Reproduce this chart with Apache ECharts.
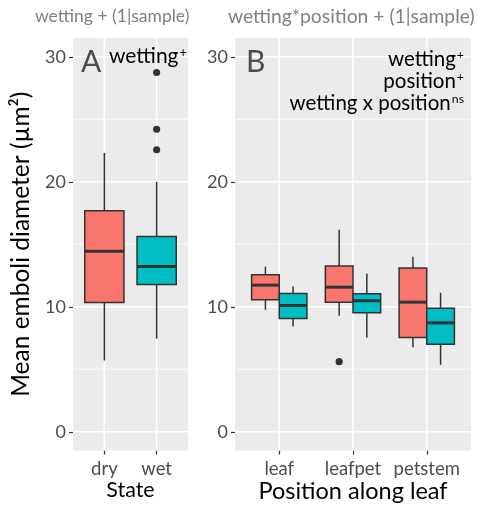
<!DOCTYPE html>
<html>
<head>
<meta charset="utf-8">
<script src="https://cdn.jsdelivr.net/npm/echarts@6/dist/echarts.min.js"></script>
<style>
  html, body { margin: 0; padding: 0; background: #ffffff; }
  #chart { width: 478px; height: 505px; }
</style>
</head>
<body>
<div id="chart"></div>
<script>
// Mean emboli diameter (µm²) by wetting state and by position along the leaf.
// Box rows are [lower whisker, Q1, median, Q3, upper whisker].
const yMajor = [0, 10, 20, 30];
const yMinor = [5, 15, 25];

const stateCats = ['dry', 'wet'];
const stateBoxes = [
  [5.7, 10.35, 14.45, 17.68, 22.3],
  [7.44, 11.79, 13.23, 15.63, 20.0]
];
const stateOutliers = [[], [22.56, 24.2, 28.74]];

const positionCats = ['leaf', 'leafpet', 'petstem'];
const dryBoxes = [
  [9.76, 10.56, 11.73, 12.57, 13.2],
  [9.28, 10.37, 11.57, 13.26, 16.17],
  [6.76, 7.54, 10.37, 13.1, 14.0]
];
const wetBoxes = [
  [8.42, 9.06, 10.1, 11.07, 11.63],
  [7.54, 9.52, 10.48, 11.04, 12.67],
  [5.35, 7.0, 8.71, 9.89, 11.12]
];
const dryOutliers = [[], [5.61], []];
const wetOutliers = [[], [], []];

const FONT = 'Lato';
const RED = '#F8766D';
const CYAN = '#00BFC4';
const INK = '#333333';

// Panel background grid lines drawn through the axis scales
function hGridSeries(gi, values, width) {
  return {
    type: 'custom', xAxisIndex: gi, yAxisIndex: gi, z: 1, silent: true,
    data: values.map(v => [v]),
    encode: { y: 0 },
    renderItem: (params, api) => {
      const cs = params.coordSys;
      const y = api.coord([1, api.value(0)])[1];
      return { type: 'line', shape: { x1: cs.x, y1: y, x2: cs.x + cs.width, y2: y },
        style: { stroke: '#ffffff', lineWidth: width } };
    }
  };
}
function vGridSeries(gi, count, width) {
  return {
    type: 'custom', xAxisIndex: gi, yAxisIndex: gi, z: 1, silent: true,
    data: Array.from({ length: count }, (_, i) => [i + 1]),
    encode: { x: 0 },
    renderItem: (params, api) => {
      const cs = params.coordSys;
      const x = api.coord([api.value(0), 0])[0];
      return { type: 'line', shape: { x1: x, y1: cs.y, x2: x, y2: cs.y + cs.height },
        style: { stroke: '#ffffff', lineWidth: width } };
    }
  };
}

// Box-and-whisker glyphs; offset/width in category units (dodged groups)
function boxSeries(gi, rows, color, offset, width) {
  return {
    type: 'custom', xAxisIndex: gi, yAxisIndex: gi, z: 3,
    data: rows.map((r, i) => [i + 1].concat(r)),
    encode: { x: 0, y: [1, 2, 3, 4, 5] },
    renderItem: (params, api) => {
      const x = api.value(0) + offset;
      const lo = api.value(1), q1 = api.value(2), md = api.value(3), q3 = api.value(4), hi = api.value(5);
      const cx = api.coord([x, md])[0];
      const left = api.coord([x - width / 2, md])[0];
      const right = api.coord([x + width / 2, md])[0];
      const yLo = api.coord([x, lo])[1], yQ1 = api.coord([x, q1])[1];
      const yMd = api.coord([x, md])[1], yQ3 = api.coord([x, q3])[1], yHi = api.coord([x, hi])[1];
      const ls = { stroke: INK, lineWidth: 1.5 };
      return {
        type: 'group',
        children: [
          { type: 'line', shape: { x1: cx, y1: yHi, x2: cx, y2: yQ3 }, style: ls },
          { type: 'line', shape: { x1: cx, y1: yQ1, x2: cx, y2: yLo }, style: ls },
          { type: 'rect', shape: { x: left, y: yQ3, width: right - left, height: yQ1 - yQ3 },
            style: { fill: color, stroke: INK, lineWidth: 1.5 } },
          { type: 'line', shape: { x1: left, y1: yMd, x2: right, y2: yMd },
            style: { stroke: INK, lineWidth: 3 } }
        ]
      };
    }
  };
}

function outlierSeries(gi, lists, offset) {
  const pts = [];
  lists.forEach((vals, i) => vals.forEach(v => pts.push([i + 1, v])));
  return {
    type: 'custom', xAxisIndex: gi, yAxisIndex: gi, z: 4,
    data: pts,
    encode: { x: 0, y: 1 },
    renderItem: (params, api) => {
      const p = api.coord([api.value(0) + offset, api.value(1)]);
      return { type: 'circle', shape: { cx: p[0], cy: p[1], r: 3.6 }, style: { fill: INK } };
    }
  };
}

function yAxisFor(gi, withName) {
  return {
    type: 'value', gridIndex: gi, min: -1.5, max: 31.5,
    axisLine: { show: false, onZero: false },
    splitLine: { show: false },
    axisTick: { show: true, customValues: yMajor, length: 4, lineStyle: { color: INK, width: 1.2 } },
    axisLabel: { customValues: yMajor, color: '#4d4d4d', fontSize: 18, fontFamily: FONT, margin: 7 },
    name: withName ? 'Mean emboli diameter (µm²)' : '',
    nameLocation: 'middle', nameRotate: 90, nameGap: 39,
    nameTextStyle: { color: '#000', fontSize: 24.5, fontFamily: FONT }
  };
}

function xAxisFor(gi, cats, name, nameSize) {
  const ticks = cats.map((_, i) => i + 1);
  return {
    type: 'value', gridIndex: gi, min: 0.4, max: cats.length + 0.6,
    axisLine: { show: false, onZero: false },
    splitLine: { show: false },
    axisTick: { show: true, customValues: ticks, length: 4, lineStyle: { color: INK, width: 1.2 } },
    axisLabel: { customValues: ticks, formatter: v => cats[Math.round(v) - 1], color: '#4d4d4d',
      fontSize: 18.5, fontFamily: FONT, margin: 9 },
    name: name, nameLocation: 'middle', nameGap: 29, nameMoveOverlap: false,
    nameTextStyle: { color: '#000', fontSize: nameSize, fontFamily: FONT }
  };
}

const supRich = (size) => ({
  t: { fontSize: size, fontFamily: FONT, fill: '#000' },
  s: { fontSize: size * 0.6, fontFamily: FONT, fill: '#000', verticalAlign: 'top', padding: [0, 0, 0, 1] }
});

const chart = echarts.init(document.getElementById('chart'), null, { renderer: 'canvas' });
chart.setOption({
  animation: false,
  backgroundColor: '#ffffff',
  grid: [
    { left: 73, top: 38, width: 115, height: 412.5, show: true, backgroundColor: '#EBEBEB', borderWidth: 0,
      containLabel: false, outerBoundsMode: 'none' },
    { left: 235, top: 38, width: 236, height: 412.5, show: true, backgroundColor: '#EBEBEB', borderWidth: 0,
      containLabel: false, outerBoundsMode: 'none' }
  ],
  xAxis: [xAxisFor(0, stateCats, 'State', 21.5), xAxisFor(1, positionCats, 'Position along leaf', 23.5)],
  yAxis: [yAxisFor(0, true), yAxisFor(1, false)],
  series: [
    hGridSeries(0, yMinor, 0.8), hGridSeries(0, yMajor, 1.6), vGridSeries(0, stateCats.length, 1.6),
    hGridSeries(1, yMinor, 0.8), hGridSeries(1, yMajor, 1.6), vGridSeries(1, positionCats.length, 1.6),
    // panel A: one box per state, filled by state
    boxSeries(0, [stateBoxes[0]], RED, 0, 0.75),
    boxSeries(0, [stateBoxes[1]], CYAN, 1, 0.75),
    outlierSeries(0, stateOutliers, 0),
    // panel B: dry/wet dodged within each position
    boxSeries(1, dryBoxes, RED, -0.1875, 0.375),
    boxSeries(1, wetBoxes, CYAN, 0.1875, 0.375),
    outlierSeries(1, dryOutliers, -0.1875),
    outlierSeries(1, wetOutliers, 0.1875)
  ],
  graphic: [
    { type: 'text', z: 20, left: 35, top: 7, style: { text: 'wetting + (1|sample)', fontSize: 17.5, fontFamily: FONT, fill: '#808080' } },
    { type: 'text', z: 20, left: 228, top: 7, style: { text: 'wetting*position + (1|sample)', fontSize: 19.3, fontFamily: FONT, fill: '#808080' } },
    { type: 'text', z: 20, left: 81, top: 47, style: { text: 'A', fontSize: 30, fontFamily: FONT, fill: '#4d4d4d' } },
    { type: 'text', z: 20, left: 246, top: 47, style: { text: 'B', fontSize: 30, fontFamily: FONT, fill: '#4d4d4d' } },
    { type: 'text', z: 20, left: 109, top: 46, style: { text: '{t|wetting}{s|+}', rich: supRich(21) } },
    { type: 'text', z: 20, right: 14, top: 49, style: { text: '{t|wetting}{s|+}', rich: supRich(20.5), align: 'right' } },
    { type: 'text', z: 20, right: 14, top: 71, style: { text: '{t|position}{s|+}', rich: supRich(20.5), align: 'right' } },
    { type: 'text', z: 20, right: 14, top: 93, style: { text: '{t|wetting x position}{s|ns}', rich: supRich(20.5), align: 'right' } }
  ]
});
</script>
</body>
</html>
